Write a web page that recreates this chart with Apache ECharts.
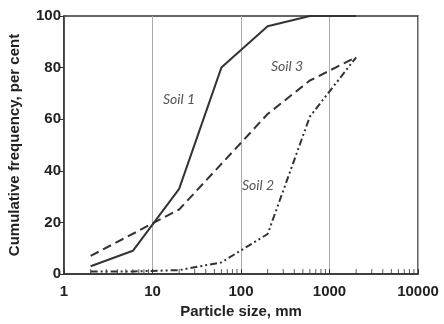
<!DOCTYPE html>
<html>
<head>
<meta charset="utf-8">
<script src="https://cdn.jsdelivr.net/npm/echarts@6/dist/echarts.min.js"></script>
<style>
  html, body { margin: 0; padding: 0; background: #fff; }
  #chart { width: 444px; height: 324px; }
</style>
</head>
<body>
<div id="chart"></div>
<script>
// particle size (mm) and cumulative frequency (%)
const soil1 = [[2, 3], [6, 9], [20, 33], [60, 80], [200, 96], [600, 100], [2000, 100]];
const soil2 = [[2, 1], [6, 1], [20, 1.5], [60, 4.5], [200, 15.5], [600, 61], [2000, 84]];
const soil3 = [[2, 7], [20, 25], [200, 62], [600, 75], [2000, 84]];
const minorTicks = [2, 3, 4, 5, 6, 7, 8, 9, 20, 30, 40, 50, 60, 70, 80, 90,
  200, 300, 400, 500, 600, 700, 800, 900, 2000, 3000, 4000, 5000, 6000, 7000, 8000, 9000];

const lineColor = '#333';
const axisFont = { color: '#222', fontFamily: 'Liberation Sans', fontWeight: 'bold', fontSize: 15 };

let myChart = echarts.init(document.getElementById('chart'));

function soilSeries(name, data, type) {
  return {
    name: name,
    type: 'line',
    data: data,
    symbol: 'none',
    smooth: false,
    lineStyle: { color: lineColor, width: 2, type: type },
    z: 3,
  };
}

let option = {
  animation: false,
  backgroundColor: '#fff',
  grid: {
    left: 64, right: 26, top: 16, bottom: 50,
    containLabel: false,
    outerBoundsMode: 'none',
    show: true, borderColor: lineColor, borderWidth: 1.5,
  },
  xAxis: {
    type: 'log',
    logBase: 10,
    min: 1,
    max: 10000,
    name: 'Particle size, mm',
    nameLocation: 'middle',
    nameGap: 30,
    nameTextStyle: axisFont,
    axisLine: { show: true, lineStyle: { color: lineColor, width: 1.5 } },
    axisTick: { show: true, inside: true, length: 5, lineStyle: { color: lineColor } },
    axisLabel: Object.assign({ margin: 10, formatter: v => String(v) }, axisFont),
    splitLine: { show: true, lineStyle: { color: '#aaa', width: 1 } },
    minorTick: { show: false },
  },
  yAxis: {
    type: 'value',
    min: 0,
    max: 100,
    interval: 20,
    name: 'Cumulative frequency, per cent',
    nameLocation: 'middle',
    nameGap: 42,
    nameTextStyle: axisFont,
    axisLine: { show: true, lineStyle: { color: lineColor, width: 1.5 } },
    axisTick: { show: true, inside: false, length: 5, lineStyle: { color: lineColor } },
    axisLabel: Object.assign({ margin: 3 }, axisFont),
    splitLine: { show: false },
  },
  series: [
    soilSeries('Soil 1', soil1, 'solid'),
    soilSeries('Soil 3', soil3, [9, 5]),
    soilSeries('Soil 2', soil2, [7, 3, 2, 3, 2, 3]),
    {
      // minor ticks of the log axis, pointing up from the bottom edge
      name: 'minor ticks',
      type: 'scatter',
      data: minorTicks.map(v => [v, 0]),
      symbol: 'rect',
      symbolSize: [1, 5],
      symbolOffset: [0, -2.5],
      itemStyle: { color: lineColor },
      silent: true,
      z: 2,
    },
  ],
  graphic: [
    { type: 'text', left: 163, top: 92, style: { text: 'Soil 1', fill: '#555', font: 'italic 14px Lato' } },
    { type: 'text', left: 271, top: 59, style: { text: 'Soil 3', fill: '#555', font: 'italic 14px Lato' } },
    { type: 'text', left: 242, top: 178, style: { text: 'Soil 2', fill: '#555', font: 'italic 14px Lato' } },
  ],
};

myChart.setOption(option);
</script>
</body>
</html>
